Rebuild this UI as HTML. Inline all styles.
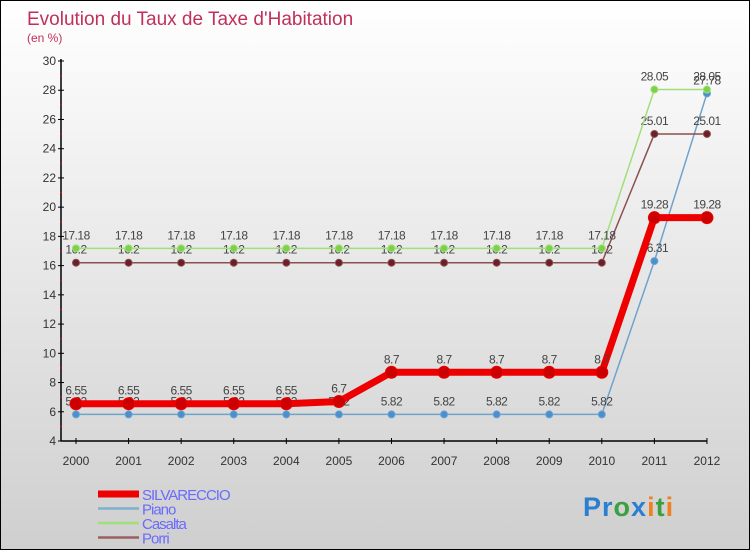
<!DOCTYPE html>
<html><head><meta charset="utf-8"><style>
body{margin:0;}
#wrap{width:748px;height:548px;border:1px solid #000;background:linear-gradient(#fff,#cfcfcf);position:relative;font-family:"Liberation Sans",sans-serif;overflow:hidden}
svg{position:absolute;left:0;top:0}
</style></head><body>
<div id="wrap">
<svg id="c" width="748" height="548"></svg>
</div>
<script>
const years=[2000,2001,2002,2003,2004,2005,2006,2007,2008,2009,2010,2011,2012];
const silvareccio=[6.55,6.55,6.55,6.55,6.55,6.7,8.7,8.7,8.7,8.7,8.7,19.28,19.28];
const piano=[5.82,5.82,5.82,5.82,5.82,5.82,5.82,5.82,5.82,5.82,5.82,16.31,27.78];
const casalta=[17.18,17.18,17.18,17.18,17.18,17.18,17.18,17.18,17.18,17.18,17.18,28.05,28.05];
const porri=[16.2,16.2,16.2,16.2,16.2,16.2,16.2,16.2,16.2,16.2,16.2,25.01,25.01];
const yTicks=[4,6,8,10,12,14,16,18,20,22,24,26,28,30];
const NS="http://www.w3.org/2000/svg",svg=document.getElementById('c');
const X=i=>75+i*52.58, Y=v=>440-(v-4)*14.615;
function el(t,a,txt){const e=document.createElementNS(NS,t);for(const k in a)e.setAttribute(k,a[k]);if(txt!=null)e.textContent=txt;svg.appendChild(e);return e;}
let t=el('text',{x:26,y:24,'font-size':19,fill:'#c0305a'},"Evolution du Taux de Taxe d'Habitation");

t=el('text',{x:26,y:41,'font-size':12,fill:'#c0305a'},"(en %)");

// axes
let a=el('line',{x1:60,y1:58,x2:60,y2:440,stroke:'#000','stroke-width':1.5});

a=el('line',{x1:60,y1:440,x2:X(12),y2:440,stroke:'#000','stroke-width':1.5});

yTicks.forEach((v,i)=>{
 el('line',{x1:57,y1:Y(v),x2:63,y2:Y(v),stroke:'#000'});
 const l=el('text',{x:55,y:Y(v)+4,'font-size':12,fill:'#333','text-anchor':'end'},v);
 
 if(i<yTicks.length-1)el('line',{x1:59,y1:Y(v+1),x2:61,y2:Y(v+1),stroke:'red'});
});
years.forEach((y,i)=>{
 el('line',{x1:X(i),y1:437,x2:X(i),y2:443,stroke:'#000'});
 const l=el('text',{x:X(i),y:464,'font-size':12,fill:'#333','text-anchor':'middle'},y);
 
});
function series(data,color,w,r,name,dot){
 const p=el('polyline',{points:data.map((v,i)=>X(i)+','+Y(v)).join(' '),fill:'none',stroke:color,'stroke-width':w,'stroke-linejoin':'round'});
 
 data.forEach((v,i)=>{
  const c=el('circle',{cx:X(i),cy:Y(v),r:r,fill:dot,stroke:color,'stroke-width':1});
  
  const l=el('text',{x:X(i),y:Y(v)-9,'font-size':12,fill:'#444','text-anchor':'middle','letter-spacing':'-0.5'},v);
  
 });
}
series(piano,'#6fa3cc',1.5,3.5,'piano','#4a90d0');
series(porri,'#8b5050',1.5,3.5,'porri','#6b1f2a');
series(casalta,'#9fe07a',1.5,3.5,'casalta','#7ed04a');
series(silvareccio,'#ee0000',7,6,'silvareccio','#cc0000');
// legend
const leg=[['SILVARECCIO','#ee0000',7],['Piano','#7fb0d0',2.5],['Casalta','#9fe07a',2.5],['Porri','#9a6060',2.5]];
leg.forEach((d,i)=>{
 const y=493+i*14.5;
 const ln=el('line',{x1:97,y1:y,x2:138,y2:y,stroke:d[1],'stroke-width':d[2]});
 
 const tx=el('text',{x:141,y:y+6,'font-size':15,fill:'#6a6aff','letter-spacing':'-1'},d[0]);
 
});
const lg=el('text',{x:582,y:515,'font-size':27,'font-weight':'bold','letter-spacing':'1'});

[['P','#2a7fd0'],['r','#2a7fd0'],['o','#3aa040'],['x','#2a7fd0'],['i','#f08020'],['t','#3aa040'],['i','#f08020']].forEach(([c,f])=>{const s=document.createElementNS(NS,'tspan');s.setAttribute('fill',f);s.textContent=c;lg.appendChild(s);});
</script>
</body></html>
